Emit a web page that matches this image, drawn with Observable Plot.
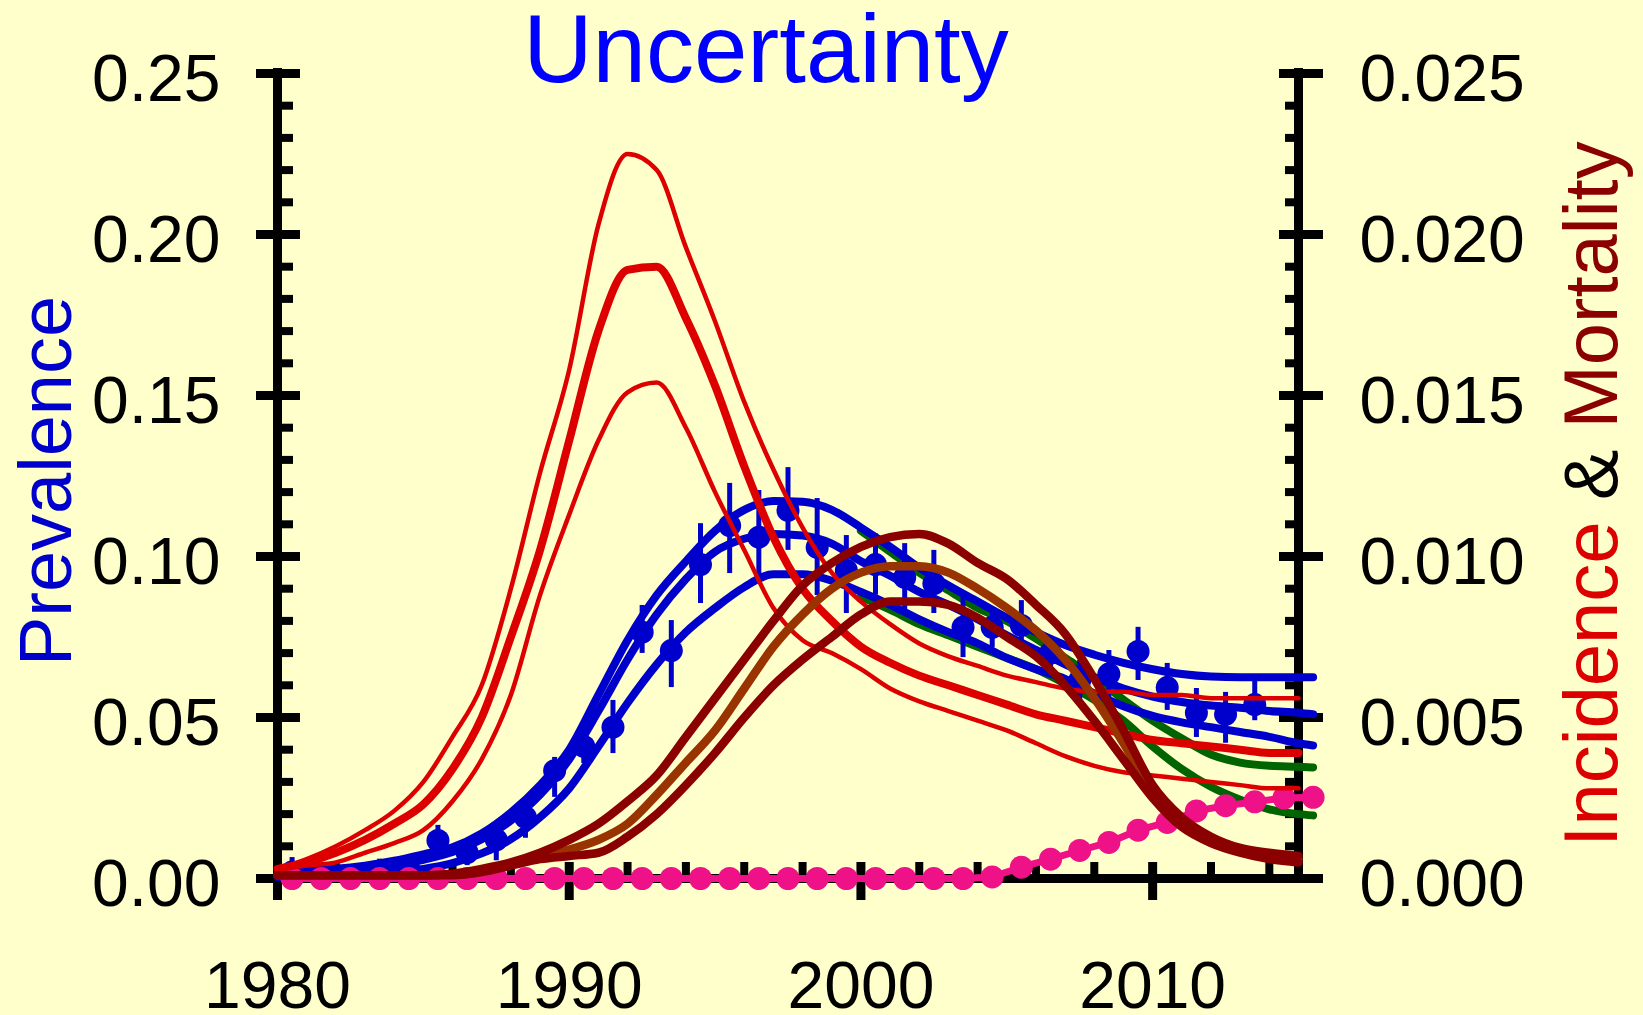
<!DOCTYPE html>
<html>
<head>
<meta charset="utf-8">
<script src="https://cdn.jsdelivr.net/npm/d3@7"></script>
<script src="https://cdn.jsdelivr.net/npm/@observablehq/plot@0.6"></script>
<style>
  html, body { margin: 0; padding: 0; background: #ffffcc; }
  #chart { width: 1643px; height: 1015px; overflow: hidden; }
  #chart svg text.rot { white-space: pre; }
</style>
</head>
<body>
<div id="chart"></div>
<script>
// Model years (yearly values); prevalence curves run half a year past 2015
const years = d3.range(1980, 2016);
const prevYears = [...years, 2015.5];
const projYears = [...d3.range(2000, 2016), 2015.5];
const midYears = d3.range(1980.5, 2016, 1);

// Prevalence (left axis): upper, central and lower model runs
const prevHi = [0.002, 0.0025, 0.003, 0.004, 0.0055, 0.0075, 0.0097, 0.014, 0.0205, 0.029,
  0.040, 0.057, 0.074, 0.088, 0.0985, 0.108, 0.1145, 0.1172, 0.117, 0.1145,
  0.109, 0.103, 0.0965, 0.091, 0.086, 0.081, 0.0765, 0.0725, 0.0695, 0.067,
  0.065, 0.0635, 0.0627, 0.0625, 0.0625, 0.0625, 0.0625];
const prevMid = [0.001, 0.0015, 0.002, 0.003, 0.004, 0.0058, 0.0082, 0.0122, 0.018, 0.026,
  0.037, 0.052, 0.068, 0.082, 0.093, 0.1015, 0.1055, 0.107, 0.1065, 0.104,
  0.0985, 0.094, 0.089, 0.085, 0.0805, 0.0755, 0.071, 0.0665, 0.0625, 0.059,
  0.0565, 0.0548, 0.0537, 0.053, 0.052, 0.0515, 0.051];
const prevLo = [0.0005, 0.0008, 0.001, 0.0015, 0.002, 0.003, 0.0048, 0.0078, 0.0122, 0.019,
  0.028, 0.041, 0.0545, 0.0665, 0.0765, 0.084, 0.0905, 0.0945, 0.0945, 0.0925,
  0.089, 0.085, 0.0805, 0.0765, 0.073, 0.0685, 0.065, 0.062, 0.0575, 0.0535,
  0.0505, 0.0485, 0.047, 0.0455, 0.044, 0.042, 0.0413];

// Projected prevalence from 2000 (left axis)
const projHi = [0.108, 0.1015, 0.095, 0.0895, 0.084, 0.080, 0.0745, 0.0685, 0.0625, 0.0555,
  0.049, 0.0435, 0.0385, 0.036, 0.035, 0.0347, 0.0345];
const projLo = [0.0875, 0.0835, 0.079, 0.0755, 0.072, 0.0685, 0.065, 0.0605, 0.0555, 0.049,
  0.041, 0.034, 0.0285, 0.0245, 0.0215, 0.0200, 0.0196];

// Survey prevalence with confidence intervals (left axis)
const obsYear = [1980.5, 1983.5, 1984.5, 1985.5, 1986.5, 1987.5, 1988.5, 1989.5, 1990.5, 1991.5,
  1992.5, 1993.5, 1994.5, 1995.5, 1996.5, 1997.5, 1998.5, 1999.5, 2000.5, 2001.5,
  2002.5, 2003.5, 2004.5, 2005.5, 2006.5, 2007.5, 2008.5, 2009.5, 2010.5, 2011.5,
  2012.5, 2013.5];
const obsValue = [0.002, 0.002, 0.003, 0.0118, 0.008, 0.012, 0.019, 0.0335, 0.041, 0.047,
  0.0765, 0.0708, 0.0975, 0.1096, 0.106, 0.1143, 0.1028, 0.0957, 0.0975, 0.0935,
  0.0916, 0.078, 0.078, 0.0786, 0.070, 0.0615, 0.0635, 0.0705, 0.0593, 0.0514,
  0.051, 0.054];
const obsLow = [-0.003, -0.002, -0.002, 0.0065, 0.004, 0.0055, 0.0125, 0.0252, 0.0357, 0.0388,
  0.0699, 0.0593, 0.0854, 0.0947, 0.0916, 0.1019, 0.0879, 0.0823, 0.088, 0.0823,
  0.0823, 0.0686, 0.0717, 0.0717, 0.0637, 0.0543, 0.0562, 0.0615, 0.0522, 0.0438,
  0.042, 0.049];
const obsHigh = [0.0065, 0.006, 0.007, 0.0165, 0.012, 0.0165, 0.0245, 0.0376, 0.046, 0.0553,
  0.0848, 0.0801, 0.1102, 0.1227, 0.1205, 0.1276, 0.118, 0.1065, 0.107, 0.104,
  0.1019, 0.0873, 0.0832, 0.0863, 0.0727, 0.0677, 0.0708, 0.078, 0.0668, 0.059,
  0.0578, 0.0615];

// Mid-year series with markers (left axis)
const covValue = [0, 0, 0, 0, 0, 0, 0, 0, 0, 0,
  0, 0, 0, 0, 0, 0, 0, 0, 0, 0,
  0, 0, 0, 0, 0.0005, 0.0035, 0.006, 0.0087, 0.0112, 0.015,
  0.0174, 0.021, 0.0226, 0.0238, 0.025, 0.0252];

// Incidence (right axis)
const incHi = [0.0003, 0.0006, 0.0010, 0.0015, 0.0021, 0.0030, 0.0044, 0.0060, 0.0090, 0.0126,
  0.0158, 0.0203, 0.0225, 0.0220, 0.0196, 0.0173, 0.0148, 0.0127, 0.0109, 0.0095,
  0.0086, 0.0079, 0.0073, 0.0069, 0.0066, 0.0063, 0.0061, 0.0059, 0.0058, 0.0058,
  0.0057, 0.0057, 0.0056, 0.0056, 0.0056, 0.0056];
const incMid = [0.0003, 0.0005, 0.0008, 0.0012, 0.0017, 0.0023, 0.0034, 0.0050, 0.0075, 0.0102,
  0.0136, 0.0170, 0.0189, 0.0190, 0.0174, 0.0153, 0.0128, 0.0106, 0.0090, 0.0080,
  0.0072, 0.0067, 0.0063, 0.0060, 0.0057, 0.0054, 0.0051, 0.0049, 0.0047, 0.0045,
  0.0043, 0.0042, 0.0041, 0.0040, 0.0039, 0.0039];
const incLo = [0.0003, 0.0004, 0.0005, 0.0008, 0.0011, 0.0015, 0.0024, 0.0037, 0.0057, 0.0088,
  0.0113, 0.0136, 0.0151, 0.0154, 0.0140, 0.0120, 0.0102, 0.0084, 0.0074, 0.0070,
  0.0065, 0.0059, 0.0055, 0.0052, 0.0049, 0.0046, 0.0042, 0.0038, 0.0035, 0.0033,
  0.0032, 0.0031, 0.0030, 0.0029, 0.0028, 0.0028];

// Mortality (right axis)
const mortHi = [0.0001, 0.0001, 0.0001, 0.0001, 0.0001, 0.0001, 0.00015, 0.0003, 0.0005, 0.0008,
  0.0012, 0.0017, 0.0024, 0.0032, 0.0044, 0.0056, 0.0068, 0.0080, 0.0091, 0.0098,
  0.0103, 0.0106, 0.0107, 0.0104, 0.0098, 0.0093, 0.0085, 0.0076, 0.0062, 0.0046,
  0.0029, 0.0019, 0.0013, 0.00095, 0.0008, 0.0007];
const mortMid = [0.0001, 0.0001, 0.0001, 0.0001, 0.0001, 0.0001, 0.00013, 0.00025, 0.00045, 0.0007,
  0.0009, 0.0012, 0.0017, 0.0026, 0.0036, 0.0046, 0.0059, 0.0072, 0.0082, 0.0090,
  0.0095, 0.0097, 0.0097, 0.0095, 0.0090, 0.0084, 0.0077, 0.0068, 0.0056, 0.0042,
  0.0027, 0.0018, 0.0012, 0.0009, 0.0007, 0.0006];
const mortLo = [0.0001, 0.0001, 0.0001, 0.0001, 0.0001, 0.0001, 0.0001, 0.0002, 0.0004, 0.0006,
  0.0007, 0.0008, 0.0013, 0.0020, 0.0029, 0.0039, 0.0050, 0.0060, 0.0068, 0.0075,
  0.0082, 0.0086, 0.0086, 0.0085, 0.0081, 0.0075, 0.0069, 0.0060, 0.0049, 0.0037,
  0.0025, 0.0016, 0.0011, 0.0008, 0.0006, 0.0005];

// Axis ticks
const yMajor = [0, 0.05, 0.10, 0.15, 0.20, 0.25];
const yMinor = d3.range(1, 25).filter(i => i % 5).map(i => i / 100);
const xMajor = [1980, 1990, 2000, 2010];
const xMinor = d3.range(1982, 2015, 2).filter(y => y % 10);

// Right-hand quantities share the y scale at ten times their value
const RIGHT = 10;

const prevTable = prevYears.map((x, i) => ({x, hi: prevHi[i], mid: prevMid[i], lo: prevLo[i]}));
const projTable = projYears.map((x, i) => ({x, hi: projHi[i], lo: projLo[i]}));
const obsTable = obsYear.map((x, i) => ({x, v: obsValue[i], lo: obsLow[i], hi: obsHigh[i]}));
const covTable = midYears.map((x, i) => ({x, v: covValue[i]}));
const incTable = years.map((x, i) => ({x, hi: incHi[i], mid: incMid[i], lo: incLo[i]}));
const mortTable = years.map((x, i) => ({x, hi: mortHi[i], mid: mortMid[i], lo: mortLo[i]}));

const BLUE = "#0000cc", GREEN = "#006400", RED = "#dd0000", DARKRED = "#8b0000",
      BROWN = "#993300", PINK = "#ee1188";
const FONT = "'Liberation Sans', Arial, Helvetica, sans-serif";

const line = (data, y, stroke, strokeWidth) =>
  Plot.line(data, {x: "x", y, stroke, strokeWidth, strokeLinejoin: "round", curve: "monotone-x"});

const chart = Plot.plot({
  width: 1643,
  height: 1015,
  marginLeft: 277,
  marginRight: 345,
  marginTop: 73,
  marginBottom: 137,
  style: {background: "#ffffcc", fontFamily: FONT, color: "black"},
  x: {domain: [1980, 2015]},
  y: {domain: [0, 0.25]},
  marks: [
    // axis lines
    Plot.ruleX([1980], {stroke: "black", strokeWidth: 9, insetTop: -5, insetBottom: -22}),
    Plot.ruleX([2015], {stroke: "black", strokeWidth: 9, insetTop: -5, insetBottom: -4}),
    Plot.ruleY([0], {stroke: "black", strokeWidth: 9}),

    // left axis
    Plot.axisY(yMajor, {anchor: "left", tickSize: 44, dx: 23, strokeWidth: 9, fill: "none", label: null}),
    Plot.axisY(yMinor, {anchor: "left", tickSize: 16, dx: 16, strokeWidth: 8, fill: "none", label: null}),
    Plot.axisY(yMajor, {anchor: "left", tickSize: 0, tickPadding: 57, dy: 6, fontSize: 66,
      tickFormat: d3.format(".2f"), label: null}),

    // right axis
    Plot.axisY(yMajor, {anchor: "right", tickSize: 44, dx: -20, strokeWidth: 9, fill: "none", label: null}),
    Plot.axisY(yMinor, {anchor: "right", tickSize: 14, dx: -14, strokeWidth: 8, fill: "none", label: null}),
    Plot.axisY(yMajor, {anchor: "right", tickSize: 0, tickPadding: 61, dy: 6, fontSize: 66,
      tickFormat: d => (d / RIGHT).toFixed(3), label: null}),

    // bottom axis
    Plot.axisX(xMajor, {anchor: "bottom", tickSize: 38, dy: -16, strokeWidth: 9, fill: "none", label: null}),
    Plot.axisX(xMinor, {anchor: "bottom", tickSize: 16, dy: -16, strokeWidth: 8, fill: "none", label: null}),
    Plot.axisX(xMajor, {anchor: "bottom", tickSize: 0, tickPadding: 83, fontSize: 66,
      tickFormat: "d", label: null}),

    // projected prevalence
    line(projTable, "hi", GREEN, 8),
    line(projTable, "lo", GREEN, 8),

    // prevalence runs
    line(prevTable, "hi", BLUE, 8),
    line(prevTable, "lo", BLUE, 8),
    line(prevTable, "mid", BLUE, 8),

    // survey points
    Plot.ruleX(obsTable, {x: "x", y1: "lo", y2: "hi", stroke: BLUE, strokeWidth: 5}),
    Plot.dot(obsTable, {x: "x", y: "v", r: 11.5, fill: BLUE}),

    // mid-year marked series
    Plot.line(covTable, {x: "x", y: "v", stroke: PINK, strokeWidth: 7, strokeLinejoin: "round"}),
    Plot.dot(covTable, {x: "x", y: "v", r: 11.5, fill: PINK}),

    // incidence
    line(incTable, d => d.hi * RIGHT, RED, 4.5),
    line(incTable, d => d.lo * RIGHT, RED, 4.5),
    line(incTable, d => d.mid * RIGHT, RED, 8),

    // mortality
    line(mortTable, d => d.mid * RIGHT, BROWN, 8.5),
    line(mortTable, d => d.lo * RIGHT, DARKRED, 8.5),
    line(mortTable, d => d.hi * RIGHT, DARKRED, 8.5)
  ]
});

document.getElementById("chart").appendChild(chart);

// Title and axis titles
const svg = d3.select(chart);
svg.append("text")
  .attr("x", 766).attr("y", 82)
  .attr("text-anchor", "middle")
  .attr("font-family", FONT).attr("font-size", 96)
  .attr("fill", "#0000ff")
  .text("Uncertainty");

svg.append("text")
  .attr("transform", "translate(71,481) rotate(-90)")
  .attr("text-anchor", "middle")
  .attr("font-family", FONT).attr("font-size", 74)
  .attr("fill", BLUE)
  .text("Prevalence");

const right = svg.append("text")
  .attr("class", "rot")
  .attr("transform", "translate(1617,494) rotate(-90)")
  .attr("text-anchor", "middle")
  .attr("font-family", FONT).attr("font-size", 76);
right.append("tspan").attr("fill", RED).text("Incidence");
right.append("tspan").attr("fill", "black").text(" & ");
right.append("tspan").attr("fill", DARKRED).text("Mortality");
</script>
</body>
</html>
